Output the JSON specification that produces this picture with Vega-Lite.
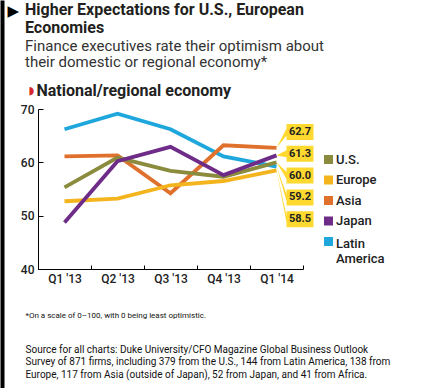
{
  "$schema": "https://vega.github.io/schema/vega-lite/v6.json",
  "autosize": "none",
  "width": 265,
  "height": 160,
  "padding": {"left": 38, "top": 109, "right": 118, "bottom": 119},
  "background": "white",
  "config": {"view": {"stroke": null}, "font": "Roboto"},
  "title": {
    "text": ["Higher Expectations for U.S., European", "Economies"],
    "subtitle": ["Finance executives rate their optimism about", "their domestic or regional economy*"],
    "anchor": "start",
    "frame": "group",
    "dx": -13,
    "offset": -67,
    "font": "Roboto",
    "fontSize": 16,
    "fontWeight": "bold",
    "color": "#231f20",
    "lineHeight": 18,
    "subtitleFont": "Roboto",
    "subtitleFontSize": 15,
    "subtitleColor": "#333333",
    "subtitleLineHeight": 16.5,
    "subtitlePadding": 3
  },
  "data": {
    "values": [
      {"quarter": "Q1 '13", "region": "Latin America", "value": 66.2},
      {"quarter": "Q2 '13", "region": "Latin America", "value": 69.1},
      {"quarter": "Q3 '13", "region": "Latin America", "value": 66.2},
      {"quarter": "Q4 '13", "region": "Latin America", "value": 61.1},
      {"quarter": "Q1 '14", "region": "Latin America", "value": 59.2},
      {"quarter": "Q1 '13", "region": "Asia", "value": 61.1},
      {"quarter": "Q2 '13", "region": "Asia", "value": 61.3},
      {"quarter": "Q3 '13", "region": "Asia", "value": 54.2},
      {"quarter": "Q4 '13", "region": "Asia", "value": 63.2},
      {"quarter": "Q1 '14", "region": "Asia", "value": 62.7},
      {"quarter": "Q1 '13", "region": "Europe", "value": 52.7},
      {"quarter": "Q2 '13", "region": "Europe", "value": 53.2},
      {"quarter": "Q3 '13", "region": "Europe", "value": 55.7},
      {"quarter": "Q4 '13", "region": "Europe", "value": 56.5},
      {"quarter": "Q1 '14", "region": "Europe", "value": 58.5},
      {"quarter": "Q1 '13", "region": "U.S.", "value": 55.3},
      {"quarter": "Q2 '13", "region": "U.S.", "value": 60.9},
      {"quarter": "Q3 '13", "region": "U.S.", "value": 58.4},
      {"quarter": "Q4 '13", "region": "U.S.", "value": 57.3},
      {"quarter": "Q1 '14", "region": "U.S.", "value": 60.0},
      {"quarter": "Q1 '13", "region": "Japan", "value": 48.7},
      {"quarter": "Q2 '13", "region": "Japan", "value": 60.2},
      {"quarter": "Q3 '13", "region": "Japan", "value": 62.9},
      {"quarter": "Q4 '13", "region": "Japan", "value": 57.6},
      {"quarter": "Q1 '14", "region": "Japan", "value": 61.3}
    ]
  },
  "layer": [
    {
      "mark": {"type": "line", "strokeWidth": 3.8},
      "encoding": {
        "x": {
          "field": "quarter", "type": "ordinal",
          "sort": ["Q1 '13", "Q2 '13", "Q3 '13", "Q4 '13", "Q1 '14"],
          "scale": {"type": "band", "paddingInner": 0, "paddingOuter": 0},
          "axis": {
            "orient": "bottom",
            "labelAngle": 0, "tickBand": "extent", "tickSize": -4,
            "domainColor": "#000000", "tickColor": "#000000",
            "labelFont": "Roboto", "labelFontSize": 12, "labelFontWeight": 500, "labelColor": "#222222",
            "labelPadding": 8,
            "title": "*On a scale of 0\u2013100, with 0 being least optimistic.",
            "titleFont": "Roboto", "titleFontSize": 8, "titleFontWeight": "normal", "titleColor": "#111111",
            "titleAlign": "left", "titleBaseline": "alphabetic", "titleAnchor": "start",
            "titleX": -13, "titleY": 48
          }
        },
        "y": {
          "field": "value", "type": "quantitative",
          "scale": {"domain": [40, 70], "nice": false, "zero": false},
          "axis": {
            "values": [40, 50, 60, 70], "grid": false,
            "tickSize": -5, "domainColor": "#000000", "tickColor": "#000000",
            "labelFont": "Roboto", "labelFontSize": 12, "labelFontWeight": 500, "labelColor": "#222222",
            "labelPadding": 9,
            "title": "National/regional economy",
            "titleAngle": 0, "titleAlign": "left", "titleBaseline": "alphabetic",
            "titleX": -2, "titleY": -14,
            "titleFont": "Roboto", "titleFontSize": 16, "titleFontWeight": "bold", "titleColor": "#222222"
          }
        },
        "color": {
          "field": "region", "type": "nominal",
          "scale": {
            "domain": ["U.S.", "Europe", "Asia", "Japan", "Latin America"],
            "range": ["#8a8b3c", "#f4b41e", "#e0712c", "#6e2c88", "#1ea7dc"]
          },
          "legend": {
            "orient": "none", "legendX": 284, "legendY": 44,
            "title": null, "padding": 0,
            "symbolType": "square", "symbolSize": 81, "symbolStrokeWidth": 0, "symbolOpacity": 1,
            "labelFont": "Roboto", "labelFontSize": 13, "labelFontWeight": 500, "labelColor": "#222222", "labelOffset": 1,
            "rowPadding": 6.5,
            "labelExpr": "datum.label === 'Latin America' ? ['Latin', 'America'] : datum.label",
            "encode": {
              "symbols": {"update": {"fill": {"scale": "color", "field": "value"}, "strokeWidth": {"value": 0}}},
              "labels": {"update": {"dy": {"signal": "datum.value === 'Latin America' ? 2 : 0"}, "lineHeight": {"value": 15}}}
            }
          }
        }
      }
    },
    {
      "transform": [{"filter": "datum.quarter === \"Q1 '14\""}],
      "mark": {"type": "point", "filled": true, "opacity": 1, "fill": "#ffd92f", "strokeWidth": 0, "size": 4},
      "encoding": {
        "x": {
          "field": "quarter", "type": "ordinal",
          "sort": ["Q1 '13", "Q2 '13", "Q3 '13", "Q4 '13", "Q1 '14"],
          "axis": {
            "orient": "bottom", "domain": false, "ticks": false, "labels": false,
            "title": [
              "Source for all charts: Duke University/CFO Magazine Global Business Outlook",
              "Survey of 871 firms, including 379 from the U.S., 144 from Latin America, 138 from",
              "Europe, 117 from Asia (outside of Japan), 52 from Japan, and 41 from Africa."
            ],
            "titleFont": "Roboto", "titleFontSize": 10, "titleFontWeight": "normal", "titleColor": "#111111",
            "titleLineHeight": 12.6,
            "titleAlign": "left", "titleBaseline": "alphabetic", "titleAnchor": "start",
            "titleX": -13, "titleY": 83
          }
        },
        "y": {
          "field": "value", "type": "quantitative",
          "scale": {"domain": [17.6875, 90.4375], "range": [279, -109], "nice": false, "zero": false},
          "axis": {
            "orient": "left", "offset": 36, "domain": true, "domainWidth": 4, "domainColor": "#000000",
            "ticks": false, "labels": false, "grid": false,
            "title": "\u25d7",
            "titleAngle": 0, "titleAlign": "left", "titleBaseline": "middle",
            "titleX": 26, "titleY": -19,
            "titleFont": "DejaVu Sans", "titleFontSize": 11, "titleColor": "#d7262e", "titleFontWeight": "normal"
          }
        },
        "shape": {
          "field": "value", "type": "nominal",
          "scale": {
            "domain": [62.7, 61.3, 60, 59.2, 58.5],
            "range": [
              "M0,0L10,-19.43L10,-23.93L37,-23.93L37,-7.93L10,-7.93L10,-12.43Z",
              "M0,0L10,-5.1L10,-9.6L37,-9.6L37,6.4L10,6.4L10,1.9Z",
              "M0,0L10,9.77L10,5.27L37,5.27L37,21.27L10,21.27L10,16.77Z",
              "M0,0L10,27.3L10,22.8L37,22.8L37,38.8L10,38.8L10,34.3Z",
              "M0,0L10,45.37L10,40.87L37,40.87L37,56.87L10,56.87L10,52.37Z"
            ]
          },
          "legend": null
        }
      }
    },
    {
      "transform": [{"filter": "datum.quarter === \"Q1 '14\""}],
      "mark": {"type": "text", "dx": 23.5, "baseline": "middle", "align": "center", "font": "Roboto", "fontSize": 11, "fontWeight": "bold", "color": "#222222"},
      "encoding": {
        "x": {
          "field": "quarter", "type": "ordinal",
          "sort": ["Q1 '13", "Q2 '13", "Q3 '13", "Q4 '13", "Q1 '14"],
          "axis": {"orient": "bottom", "domain": false, "ticks": false, "labels": false, "title": null}
        },
        "y": {
          "field": "value", "type": "ordinal", "sort": "descending",
          "scale": {"range": [23, 110.2], "padding": 0},
          "axis": {
            "orient": "left", "domain": false, "ticks": false, "labels": false, "grid": false,
            "title": "\u25b6",
            "titleAngle": 0, "titleAlign": "left", "titleBaseline": "middle",
            "titleX": -31, "titleY": -99,
            "titleFont": "DejaVu Sans", "titleFontSize": 15, "titleColor": "#000000", "titleFontWeight": "normal"
          }
        },
        "text": {"field": "value", "type": "quantitative", "format": ".1f"}
      }
    }
  ],
  "resolve": {"scale": {"y": "independent"}, "axis": {"x": "independent", "y": "independent"}}
}
